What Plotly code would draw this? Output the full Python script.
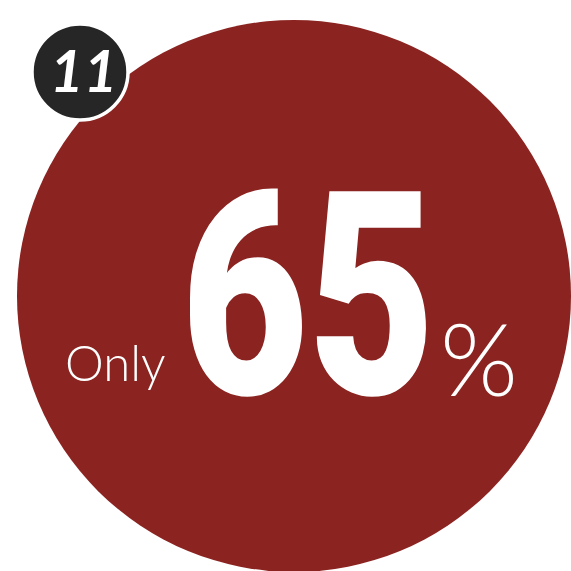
import plotly.graph_objects as go

# ---- data ----
badge_number = ["11"]
share_value = [65]
prefix_label = ["Only"]
suffix_label = ["%"]

W = H = 571
RED = "rgb(139,35,32)"
DARK = "rgb(38,38,38)"

fig = go.Figure()

shapes = [
    dict(type="circle", xref="x", yref="y", x0=294 - 277, x1=294 + 277,
         y0=296 - 276, y1=296 + 276, fillcolor=RED, line=dict(width=0), layer="below"),
    dict(type="circle", xref="x", yref="y", x0=80 - 48, x1=80 + 48,
         y0=72 - 48, y1=72 + 48, fillcolor=DARK, line=dict(color="white", width=3.5), layer="below"),
]

annotations = [
    dict(x=307.5, y=297, xref="x", yref="y", text=str(share_value[0]), showarrow=False,
         xanchor="center", yanchor="middle",
         font=dict(family="Roboto", size=285, color="white", weight=900)),
    dict(x=115.5, y=362, xref="x", yref="y", text=prefix_label[0], showarrow=False,
         xanchor="center", yanchor="middle",
         font=dict(family="Lato", size=49, color="white", weight=300)),
    dict(x=478.5, y=357, xref="x", yref="y", text=suffix_label[0], showarrow=False,
         xanchor="center", yanchor="middle",
         font=dict(family="Lato", size=100, color="white", weight=300)),
    dict(x=83, y=69, xref="x", yref="y", text=badge_number[0], showarrow=False,
         xanchor="center", yanchor="middle",
         font=dict(family="Lato", size=58, color="white", weight="bold", style="italic")),
]

fig.update_layout(
    width=W, height=H, margin=dict(l=0, r=0, t=0, b=0),
    paper_bgcolor="white", plot_bgcolor="white",
    xaxis=dict(range=[0, W], visible=False, fixedrange=True),
    yaxis=dict(range=[H, 0], visible=False, fixedrange=True),
    shapes=shapes, annotations=annotations, showlegend=False,
)

# condense the big number horizontally (the reference uses a condensed face)
post = """
var gd = document.getElementById('{plot_id}');
gd.querySelectorAll('.annotation-text').forEach(function(el){
  if (el.textContent === '%s') {
    el.style.transformBox = 'fill-box';
    el.style.transformOrigin = 'center';
    el.style.transform = 'scaleX(0.77)';
  }
});
""" % str(share_value[0])

fig.write_html("out.html", config={"displayModeBar": False}, post_script=post)
